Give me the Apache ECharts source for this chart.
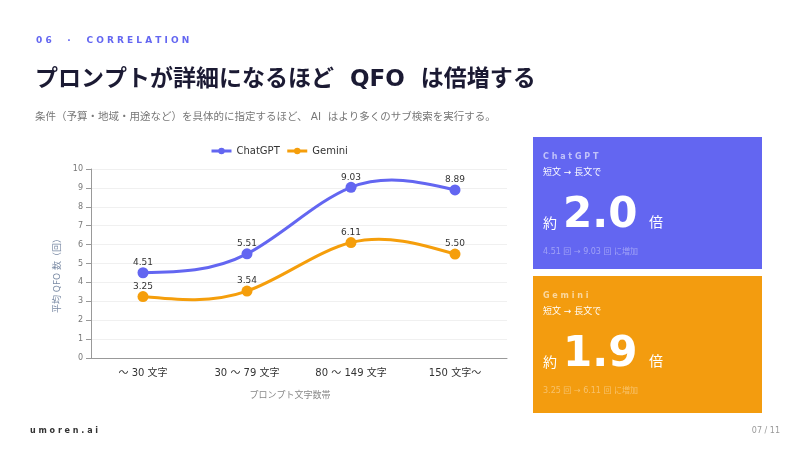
<!DOCTYPE html>
<html lang="ja" style="height: 100%">
<head>
  <meta charset="utf-8">
</head>
<body style="height: 100%; margin: 0; background: #fff">
<div id="container" style="width: 800px; height: 450px"></div>

<script type="text/javascript" src="https://cdn.jsdelivr.net/npm/echarts@6/dist/echarts.min.js"></script>

<script type="text/javascript">
  var categories = ['～ 30 文字', '30 ～ 79 文字', '80 ～ 149 文字', '150 文字～'];
  var seriesNames = ['ChatGPT', 'Gemini'];
  var chatgpt = [4.51, 5.51, 9.03, 8.89];
  var gemini = [3.25, 3.54, 6.11, 5.50];
  var ratios = ['2.0', '1.9'];
  var colors = ['#6366f1', '#f59e0b'];
  var cardColors = ['#6366f1', '#f39c0f'];

  var font = '"DejaVu Sans", "Noto Sans CJK JP", sans-serif';
  var dom = document.getElementById('container');
  var myChart = echarts.init(dom, null, { renderer: 'canvas' });

  // natural cubic spline second derivatives (x = category index)
  function splineM(y) {
    var n = y.length, M = new Array(n).fill(0);
    if (n < 3) return M;
    var c = [], r = [];
    for (var i = 1; i < n - 1; i++) {
      var rhs = 6 * (y[i + 1] - 2 * y[i] + y[i - 1]);
      if (i === 1) { c[i] = 1 / 4; r[i] = rhs / 4; }
      else {
        var m = 4 - c[i - 1];
        c[i] = 1 / m; r[i] = (rhs - r[i - 1]) / m;
      }
    }
    for (var k = n - 2; k >= 1; k--) M[k] = r[k] - (k < n - 2 ? c[k] * M[k + 1] : 0);
    return M;
  }

  function curveItem(d, color) {
    var M = splineM(d);
    return function (params, api) {
      var i = params.dataIndex;
      if (i >= d.length - 1) return null;
      var dy = d[i + 1] - d[i];
      var s0 = dy - (2 * M[i] + M[i + 1]) / 6;
      var s1 = dy + (M[i] + 2 * M[i + 1]) / 6;
      var a = api.coord([i, d[i]]);
      var b = api.coord([i + 1, d[i + 1]]);
      // category axis snaps fractional x, so step x in pixels
      var dx = b[0] - a[0];
      var cy1 = api.coord([i, d[i] + s0 / 3])[1];
      var cy2 = api.coord([i, d[i + 1] - s1 / 3])[1];
      return {
        type: 'bezierCurve',
        shape: { x1: a[0], y1: a[1], x2: b[0], y2: b[1], cpx1: a[0] + dx / 3, cpy1: cy1, cpx2: a[0] + dx * 2 / 3, cpy2: cy2 },
        style: { stroke: color, lineWidth: 3, fill: null }
      };
    };
  }

  // summary cards on the right
  function card(i, top, h) {
    var a = [chatgpt, gemini][i];
    return {
      type: 'group', left: 533, top: top,
      children: [
        { type: 'rect', shape: { x: 0, y: 0, width: 229, height: h }, style: { fill: cardColors[i] } },
        { type: 'text', x: 10, y: 16, style: { text: seriesNames[i].split('').join(' '), fill: 'rgba(255,255,255,0.6)', font: 'bold 8px ' + font } },
        { type: 'text', x: 10, y: 31, style: { text: '短文 → 長文で', fill: '#fff', font: '9px ' + font } },
        { type: 'text', x: 10, y: 80, style: { text: '約', fill: '#fff', font: '14px ' + font } },
        { type: 'text', x: 30, y: 58, style: { text: ratios[i], fill: '#fff', font: 'bold 42px ' + font } },
        { type: 'text', x: 116, y: 79, style: { text: '倍', fill: '#fff', font: '14px ' + font } },
        { type: 'text', x: 10, y: 111, style: { text: a[0].toFixed(2) + ' 回 → ' + a[2].toFixed(2) + ' 回 に増加', fill: 'rgba(255,255,255,0.38)', font: '8px ' + font } }
      ]
    };
  }

  var series = [];
  [chatgpt, gemini].forEach(function (d, i) {
    series.push({
      name: seriesNames[i],
      type: 'line',
      data: d,
      z: 3,
      symbol: 'circle',
      symbolSize: 11,
      lineStyle: { width: 3, opacity: 0 },
      label: {
        show: true, position: 'top', distance: 0,
        fontSize: 9, color: '#333',
        formatter: function (p) { return p.value.toFixed(2); }
      }
    });
    series.push({
      name: seriesNames[i],
      type: 'custom',
      z: 2,
      data: d.map(function (v, j) { return [j, v]; }),
      renderItem: curveItem(d, colors[i])
    });
  });

  var option = {
    animation: false,
    backgroundColor: '#fff',
    color: colors,
    textStyle: { fontFamily: font },
    legend: {
      data: seriesNames.map(function (n, i) {
        return { name: n, lineStyle: { color: colors[i], width: 3, opacity: 1 } };
      }),
      left: 205, top: 141,
      itemWidth: 20, itemHeight: 8, itemGap: 6,
      textStyle: { fontSize: 10, color: '#333', fontFamily: font }
    },
    grid: { left: 91, right: 293, top: 169, bottom: 92 },
    xAxis: {
      type: 'category',
      data: categories,
      name: 'プロンプト文字数帯',
      nameLocation: 'middle',
      nameGap: 33,
      nameTextStyle: { fontSize: 9, color: '#888', padding: [0, 18, 0, 0] },
      axisLine: { lineStyle: { color: '#999' } },
      axisTick: { lineStyle: { color: '#999' } },
      axisLabel: { fontSize: 10, color: '#333', margin: 10 }
    },
    yAxis: {
      type: 'value',
      min: 0, max: 10, interval: 1,
      name: '平均 QFO 数（回）',
      nameLocation: 'middle',
      nameGap: 28,
      nameTextStyle: { fontSize: 9, color: '#7b8ba5', padding: [0, 20, 0, 0] },
      axisLine: { show: true, lineStyle: { color: '#999' } },
      axisTick: { show: true, lineStyle: { color: '#999' } },
      axisLabel: { fontSize: 8, color: '#777' },
      splitLine: { lineStyle: { color: '#f0f0f0' } }
    },
    series: series,
    graphic: [
      { type: 'text', left: 36, top: 36, style: { text: '0 6     ·     C O R R E L A T I O N', fill: '#6366f1', font: 'bold 9px ' + font } },
      { type: 'text', left: 35, top: 69, style: { text: 'プロンプトが詳細になるほど  QFO  は倍増する', fill: '#1b1a33', font: 'bold 23px ' + font } },
      { type: 'text', left: 35, top: 112, style: { text: '条件（予算・地域・用途など）を具体的に指定するほど、 AI  はより多くのサブ検索を実行する。', fill: '#777', font: '10.5px ' + font } },
      { type: 'text', left: 30, top: 427, style: { text: 'u m o r e n . a i', fill: '#333', font: 'bold 8px ' + font } },
      { type: 'text', right: 20, top: 427, style: { text: '07 / 11', fill: '#999', font: '8px ' + font } },
      card(0, 137, 132),
      card(1, 276, 137)
    ]
  };

  myChart.setOption(option);
  window.addEventListener('resize', myChart.resize);
</script>
</body>
</html>
